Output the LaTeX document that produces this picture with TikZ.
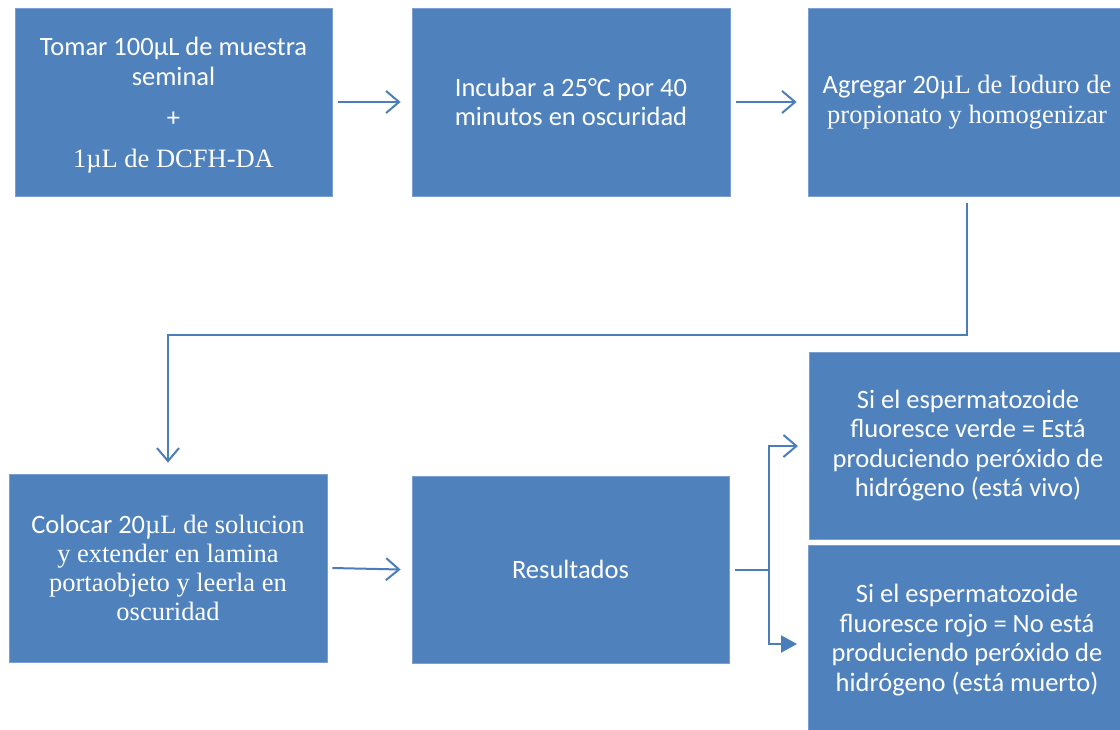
\documentclass[tikz,border=0pt]{standalone}
\usepackage{fontspec}
\setmainfont{Carlito}
\newfontfamily\calfont{Carlito}
\newfontfamily\tms{Liberation Serif}
\usetikzlibrary{arrows.meta}
\definecolor{boxblue}{HTML}{4F81BD}
\definecolor{boxedge}{HTML}{7A9FD0}
\definecolor{linkblue}{HTML}{4A7EBB}
\tikzset{
  stepbox/.style={rectangle, fill=boxblue, draw=boxedge, line width=0.8pt,
    text=white, align=center, inner sep=0pt,
    font=\fontsize{26.5}{29.5}\selectfont\calfont},
  link/.style={draw=linkblue, line width=2pt},
  openarrow/.style={link, -{Straight Barb[length=13pt,width=22pt,line width=2pt]}},
  fillarrow/.style={link, -{Triangle[length=16pt,width=17pt]}},
}
\begin{document}
\begin{tikzpicture}[x=1pt,y=-1pt]
\useasboundingbox (0,0) rectangle (1120,729);
\clip (0,0) rectangle (1120,729);
\fill[white] (0,0) rectangle (1120,729);

\node[stepbox, minimum width=317pt, minimum height=188pt] (b1) at (173.5,102)
  {\rule{0pt}{25pt}Tomar 100µL de muestra\\seminal\\[12pt]+\\[11pt]{\tms 1µL de DCFH-DA}};
\node[stepbox, minimum width=318pt, minimum height=188pt] (b2) at (571,102)
  {Incubar a 25°C por 40\\minutos en oscuridad};
\node[stepbox, minimum width=318pt, minimum height=188pt] (b3) at (967,102)
  {Agregar 20{\tms µL de Ioduro de}\\{\tms propionato y homogenizar}};
\node[stepbox, minimum width=318pt, minimum height=188pt, font=\fontsize{26.5}{28.8}\selectfont\calfont] (b4) at (168,568)
  {Colocar 20{\tms µL de solucion}\\{\tms y extender en lamina}\\{\tms portaobjeto y leerla en}\\{\tms oscuridad}};
\node[stepbox, minimum width=317pt, minimum height=187pt] (b5) at (570.5,569.5)
  {Resultados};
\node[stepbox, minimum width=318pt, minimum height=187pt] (b6) at (968,445.5)
  {Si el espermatozoide\\fluoresce verde = Está\\produciendo peróxido de\\hidrógeno (está vivo)};
\node[stepbox, minimum width=318pt, minimum height=190pt] (b7) at (967,640)
  {Si el espermatozoide\\fluoresce rojo = No está\\produciendo peróxido de\\hidrógeno (está muerto)};

\coordinate (s1) at ([xshift=6pt]b1.east);
\coordinate (e1) at ([xshift=-11pt]b2.west);
\draw[openarrow] (s1) -- (e1);
\coordinate (s2) at ([xshift=6pt]b2.east);
\coordinate (e2) at ([xshift=-11pt]b3.west);
\draw[openarrow] (s2) -- (e2);

\coordinate (s3) at ([yshift=-7pt]b3.south);
\coordinate (e3) at ([yshift=11pt]b4.north);
\draw[openarrow] (s3) -- (s3 |- 0,335) -- (e3 |- 0,335) -- (e3);

\coordinate (s4) at ([xshift=5pt]b4.east);
\coordinate (e4) at ([xshift=-11pt]b5.west);
\draw[openarrow] (s4) -- (e4);

\coordinate (s5) at ([xshift=6pt]b5.east);
\coordinate (j5) at (769,569.5);
\coordinate (e6) at (798,446);
\coordinate (e7) at (797,644);
\draw[link] (s5) -- (j5);
\draw[openarrow] (j5) -- (j5 |- e6) -- (e6);
\draw[fillarrow] (j5) -- (j5 |- e7) -- (e7);
\end{tikzpicture}
\end{document}
